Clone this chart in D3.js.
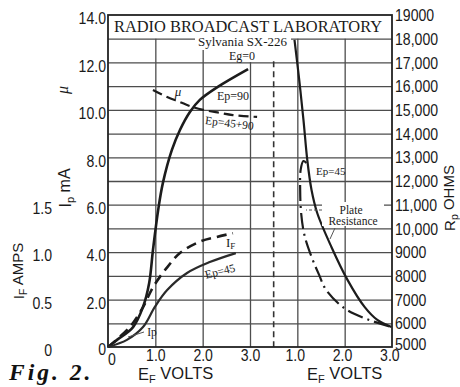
<!DOCTYPE html>
<html><head><meta charset="utf-8">
<script src="https://cdn.jsdelivr.net/npm/d3@7"></script>
<style>
body{margin:0;background:#fff}
svg{display:block}
.tk text{font-family:"Liberation Sans",Arial,sans-serif;font-size:16px;fill:#1a1a1a}
.serif{font-family:"Liberation Serif","Times New Roman",serif;fill:#1a1a1a}
.sans{font-family:"Liberation Sans",Arial,sans-serif;fill:#1a1a1a}
.grid line{stroke:#4d4d4d;stroke-width:1.3px}
</style></head><body>
<svg id="c" width="460" height="387"></svg>
<script>
// ---------- data ----------
// Left panel: E_F volts vs Ip (mA), mu, I_F (amps)
const ipEp90Volts = [0,0.19,0.53,0.74,0.87,0.95,1.06,1.16,1.35,1.52,1.73,1.94,2.32,2.96];
const ipEp90mA    = [0,0.30,0.84,1.69,2.70,4.09,5.78,6.92,8.31,9.15,9.91,10.42,10.97,11.72];
const muVolts     = [0.95,1.25,1.52,1.73,2.01,2.37,2.64,3.15];
const muValues    = [10.84,10.54,10.33,10.16,10.0,9.87,9.78,9.70];
const ifVolts     = [0,0.46,0.74,0.95,1.25,1.52,1.94,2.30,2.64];
const ifAmps      = [0,0.21,0.42,0.63,0.84,0.99,1.11,1.16,1.20];
const ipEp45Volts = [0,0.40,0.74,0.99,1.25,1.67,2.15,2.70];
const ipEp45mA    = [0,0.30,0.84,1.69,2.40,3.12,3.58,3.96];
// Right panel: E_F volts vs plate resistance (ohms)
const rpEp90Volts = [0.94,1.04,1.13,1.21,1.30,1.42,1.72,2.06,2.42,2.69,2.99];
const rpEp90Ohms  = [17950,16260,14570,12890,11620,10650,9220,7830,6690,6140,5840];
const rpEp45Volts = [1.19,1.13,1.07,1.06,1.08,1.15,1.30,1.46,1.61,1.99,2.41,2.99];
const rpEp45Ohms  = [12760,12840,12470,11620,10650,9720,8800,8040,7400,6640,6220,5840];
// tick values
const leftTicks  = [0,2,4,6,8,10,12,14];
const gridTicks  = [1,2,3,4,5,6,7,8,9,10,11,12,13];
const ampTicks   = [0,0.5,1.0,1.5];
const ohmTicks   = [5000,6000,7000,8000,9000,10000,11000,12000,13000,14000,15000,16000,17000,18000,19000];
const xLeftTicks = [0,1,2,3];
const xRightTicks= [1,2,3];

// ---------- scales ----------
const X0 = 108, X1 = 392, Y0 = 347, Y1 = 15;
const unit = (X1 - X0) / 6;
const xL = d3.scaleLinear().domain([0, 3.5]).range([X0, X0 + 3.5*unit]);
const xR = d3.scaleLinear().domain([0.5, 3.0]).range([X0 + 3.5*unit, X1]);
const y   = d3.scaleLinear().domain([0, 14]).range([Y0, Y1]);
const yIF = d3.scaleLinear().domain([0, 3.5]).range([Y0, Y1]);
const yR  = d3.scaleLinear().domain([5000, 19000]).range([Y0, Y1]);

const svg = d3.select("#c");
svg.append("rect").attr("width",460).attr("height",387).attr("fill","#fff");

// grid via axes
const gH = svg.append("g").attr("class","grid").attr("transform",`translate(${X0},0)`)
  .call(d3.axisLeft(y).tickValues(gridTicks).tickSize(-(X1-X0)).tickFormat(""));
gH.select(".domain").remove();
const vTop = y(13);
const gVL = svg.append("g").attr("class","grid").attr("transform",`translate(0,${Y0})`)
  .call(d3.axisBottom(xL).tickValues([1,2,3]).tickSize(-(Y0-vTop)).tickFormat(""));
gVL.select(".domain").remove();
const gVR = svg.append("g").attr("class","grid").attr("transform",`translate(0,${Y0})`)
  .call(d3.axisBottom(xR).tickValues([1,2]).tickSize(-(Y0-vTop)).tickFormat(""));
gVR.select(".domain").remove();

svg.append("line").attr("x1",xL(3.5)).attr("x2",xL(3.5)).attr("y1",y(12.05)).attr("y2",Y0)
  .attr("stroke","#333").attr("stroke-width",1.6).attr("stroke-dasharray","6,4");

// frame
svg.append("rect").attr("x",X0).attr("y",Y1).attr("width",X1-X0).attr("height",Y0-Y1)
  .attr("fill","none").attr("stroke","#222").attr("stroke-width",1.8);

// title
svg.append("text").attr("class","serif").attr("x",114).attr("y",32).attr("font-size",16)
  .attr("textLength",268).attr("lengthAdjust","spacingAndGlyphs").text("RADIO BROADCAST LABORATORY");
svg.append("rect").attr("x",195).attr("y",33).attr("width",96).attr("height",17).attr("fill","#fff");
svg.append("rect").attr("x",224).attr("y",49).attr("width",38).attr("height",13).attr("fill","#fff");
svg.append("text").attr("class","serif").attr("x",198).attr("y",45.5).attr("font-size",12.5)
  .attr("textLength",89).attr("lengthAdjust","spacingAndGlyphs").text("Sylvania SX-226");
svg.append("text").attr("class","serif").attr("x",242).attr("y",59.5).attr("font-size",12)
  .attr("text-anchor","middle").text("Eg=0");

// ---------- curves ----------
const lineL = d3.line().curve(d3.curveCatmullRom.alpha(0.5));
function pts(xs, ys, sx, sy){ return xs.map((v,i)=>[sx(v), sy(ys[i])]); }
function draw(p, opts){
  svg.append("path").attr("d", lineL(p)).attr("fill","none")
    .attr("stroke", opts.c || "#1c1c1c").attr("stroke-width", opts.w || 2)
    .attr("stroke-dasharray", opts.d || null).attr("stroke-linecap","butt");
}
draw(pts(ipEp90Volts, ipEp90mA, xL, y), {w:2.6});
draw(pts(muVolts, muValues, xL, y), {w:2.2, d:"10,5"});
draw(pts(ifVolts, ifAmps, xL, yIF), {w:2.6, d:"10,6"});
draw(pts(ipEp45Volts, ipEp45mA, xL, y), {w:2.2, c:"#2a2a2a"});
draw(pts(rpEp90Volts, rpEp90Ohms, xR, yR), {w:2.2});
draw(pts(rpEp45Volts, rpEp45Ohms, xR, yR), {w:2.2, d:"16,5,2,5"});

// ---------- axes ----------
function styleAxis(g){ g.select(".domain").remove(); g.attr("class","tk"); g.selectAll("text").attr("transform","scale(0.88,1)"); }
svg.append("g").attr("transform",`translate(${X0-2},0)`)
  .call(d3.axisLeft(y).tickValues(leftTicks).tickSize(0).tickPadding(0)
    .tickFormat(d => d===0 ? "0" : d.toFixed(1)))
  .call(styleAxis).selectAll("text").attr("dy", d => d===0 ? "0.45em" : "0.55em");
svg.append("g").attr("transform",`translate(52,0)`)
  .call(d3.axisLeft(yIF).tickValues(ampTicks).tickSize(0).tickPadding(0)
    .tickFormat(d => d===0 ? "0" : d.toFixed(1)))
  .call(styleAxis).selectAll("text").attr("dy","0.55em");
svg.append("g").attr("transform",`translate(${X1+3},0)`)
  .call(d3.axisRight(yR).tickValues(ohmTicks).tickSize(0).tickPadding(0)
    .tickFormat(d => (d>=10000 && d<19000) ? d3.format(",")(d) : String(d)))
  .call(styleAxis).selectAll("text").attr("dy", d => d===5000 ? "0.15em" : "0.35em");
svg.append("g").attr("transform",`translate(0,${Y0})`)
  .call(d3.axisBottom(xL).tickValues(xLeftTicks).tickSize(0).tickPadding(3)
    .tickFormat(d => d===0 ? "0" : d.toFixed(1)))
  .call(styleAxis).selectAll("text").attr("dx", d => d===0 ? "4" : "0")
  .attr("font-size", d => d===0 ? 13 : null).attr("dy", d => d===0 ? "0.95em" : "0.71em");
svg.append("g").attr("transform",`translate(0,${Y0})`)
  .call(d3.axisBottom(xR).tickValues(xRightTicks).tickSize(0).tickPadding(3)
    .tickFormat(d => d.toFixed(1)))
  .call(styleAxis).selectAll("text").attr("dx","-3");

// ---------- axis titles ----------
function vtext(x, yc, parts, cls, size){
  const t = svg.append("text").attr("class",cls).attr("font-size",size)
    .attr("text-anchor","middle").attr("transform",`translate(${x},${yc}) rotate(-90)`);
  parts.forEach(p => { const s = t.append("tspan").text(p.t);
    if(p.sub){ s.attr("dy","0.3em").attr("font-size",size*0.7); }
    if(p.back){ s.attr("dy","-0.3em"); } });
  return t;
}
svg.append("text").attr("class","serif").attr("font-size",16).attr("font-style","italic")
  .attr("text-anchor","middle").attr("transform","translate(68,90) rotate(-90)").text("μ");
vtext(71, 188, [{t:"I"},{t:"p",sub:true},{t:" mA",back:true}], "sans", 16);
vtext(24, 271, [{t:"I"},{t:"F",sub:true},{t:" AMPS",back:true}], "sans", 15);
vtext(455, 198, [{t:"R"},{t:"p",sub:true},{t:" OHMS",back:true}], "sans", 15);

function etext(x){
  const t = svg.append("text").attr("class","sans").attr("font-size",16.5).attr("x",x).attr("y",380);
  t.append("tspan").text("E");
  t.append("tspan").text("F").attr("font-size",11).attr("dy","0.25em");
  t.append("tspan").text(" VOLTS").attr("dy","-0.25em");
}
etext(138); etext(307);

svg.append("text").attr("x",9).attr("y",380).attr("font-size",23.5).attr("font-weight","bold")
  .attr("font-style","italic").attr("font-family","Liberation Serif, Times New Roman, serif")
  .attr("letter-spacing",3).attr("fill","#111").text("Fig. 2.");

// ---------- curve labels ----------
const lab = (x,yy,t,size,opt={}) => svg.append("text").attr("class","serif").attr("font-size",size)
  .attr("x",x).attr("y",yy).attr("text-anchor",opt.a||"middle").attr("fill",opt.c||"#1a1a1a")
  .attr("transform", opt.r ? `rotate(${opt.r},${x},${yy})` : null).text(t);
lab(178,96,"μ",13,{}).attr("font-style","italic");
lab(233,100,"Ep=90",12);
lab(229,127,"Ep=45+90",11.5,{r:7});
lab(221,275,"Ep=45",11.5,{r:-14,c:"#444"});
const ifl = lab(226,247,"I",13,{a:"start"}); ifl.append("tspan").text("F").attr("font-size",9).attr("dy","0.2em");
lab(152,336,"Ip",11.5,{c:"#444"});
svg.append("line").attr("x1",144).attr("y1",332).attr("x2",128).attr("y2",337).attr("stroke","#555").attr("stroke-width",1);

// right panel labels
svg.append("rect").attr("x",322).attr("y",202).attr("width",62).attr("height",24).attr("fill","#fff");
lab(351,214,"Plate",11.5,{c:"#555"});
lab(353,225,"Resistance",11.5,{c:"#555"});
svg.append("line").attr("x1",322).attr("y1",210).attr("x2",306).attr("y2",210).attr("stroke","#555").attr("stroke-width",1).attr("stroke-dasharray","3,2");
svg.append("line").attr("x1",335).attr("y1",228).attr("x2",330).attr("y2",239).attr("stroke","#555").attr("stroke-width",1);
lab(316,175,"Ep=45",11,{a:"start",c:"#333"});
</script>
</body></html>
